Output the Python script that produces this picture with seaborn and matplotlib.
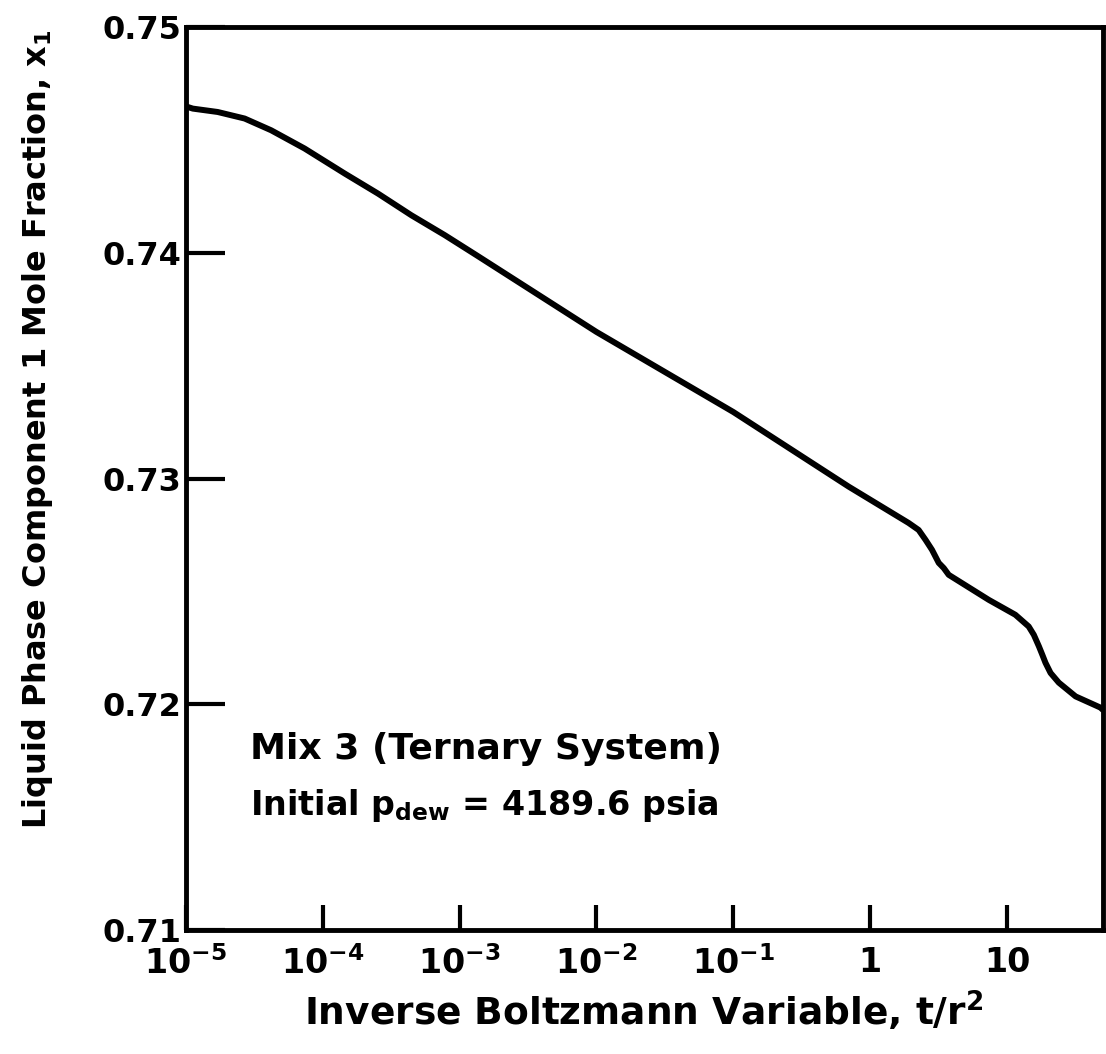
import matplotlib
matplotlib.use("Agg")
import matplotlib.pyplot as plt
import seaborn as sns
import numpy as np
import pandas as pd

# Data
t_over_r2 = [1.0e-5, 1.125e-5, 1.71e-5, 2.69e-5, 4.2e-5, 7.38e-5, 1.45e-4, 2.54e-4,
             4.45e-4, 7.8e-4, 1.33e-3, 1.0e-2, 1.0e-1, 0.697, 1.91, 2.26, 2.54, 2.83,
             3.17, 3.45, 3.75, 7.36, 11.5, 14.4, 15.7, 17.1, 18.1, 19.1, 20.8, 23.9,
             31.7, 48.3, 50.0]
x1_frac = [0.7465, 0.7464, 0.74625, 0.74596, 0.74544, 0.74463, 0.74352, 0.74263,
           0.74167, 0.74079, 0.73990, 0.7365, 0.73295, 0.72964, 0.72803, 0.72772, 0.72728, 0.72684,
           0.72626, 0.72603, 0.72573, 0.72462, 0.72396, 0.72344, 0.72307, 0.72256, 0.72219,
           0.72183, 0.72138, 0.72095, 0.72034, 0.71984, 0.71975]

x_ticks = [1e-5, 1e-4, 1e-3, 1e-2, 1e-1, 1, 10]
x_tick_labels = [r'$\mathbf{10^{-5}}$', r'$\mathbf{10^{-4}}$', r'$\mathbf{10^{-3}}$',
                 r'$\mathbf{10^{-2}}$', r'$\mathbf{10^{-1}}$', '1', '10']
y_ticks = [0.71, 0.72, 0.73, 0.74, 0.75]
y_tick_labels = ['0.71', '0.72', '0.73', '0.74', '0.75']

sns.set_style("ticks")
plt.rcParams['font.family'] = ['DejaVu Sans']
plt.rcParams['mathtext.fontset'] = 'dejavusans'
plt.rcParams['text.color'] = 'black'
plt.rcParams['axes.labelcolor'] = 'black'
plt.rcParams['xtick.color'] = 'black'
plt.rcParams['ytick.color'] = 'black'

df = pd.DataFrame({"t": t_over_r2, "x1": x1_frac})

fig = plt.figure(figsize=(11.06, 10.54), dpi=100)
ax = fig.add_axes([0.168, 0.118, 0.997 - 0.168, 0.974 - 0.118])

sns.lineplot(data=df, x="t", y="x1", ax=ax, color="black", linewidth=4.3, sort=True,
             solid_joinstyle="round", solid_capstyle="round")
ax.set_xscale("log")
ax.set_xlim(1e-5, 50)
ax.set_ylim(0.71, 0.75)

ax.set_xticks(x_ticks)
ax.set_xticklabels(x_tick_labels)
ax.xaxis.set_minor_locator(matplotlib.ticker.NullLocator())
ax.set_yticks(y_ticks)
ax.set_yticklabels(y_tick_labels)

for s in ax.spines.values():
    s.set_linewidth(3.5)
    s.set_color("black")

ax.tick_params(axis="x", direction="in", length=18, width=3, labelsize=24, pad=12, colors="black")
ax.tick_params(axis="y", direction="in", length=28, width=3, labelsize=23, pad=3, colors="black")
for lbl in ax.get_xticklabels() + ax.get_yticklabels():
    lbl.set_fontweight("bold")

ax.set_xlabel(r"Inverse Boltzmann Variable, t/r$^{\mathbf{2}}$", fontsize=27, fontweight="bold",
              labelpad=6, color="black")
ax.set_ylabel(r"Liquid Phase Component 1 Mole Fraction, x$_{\mathbf{1}}$", fontsize=23,
              fontweight="bold", color="black")
ax.yaxis.set_label_coords(-0.143, 0.555)

ax.text(0.070, 0.200, "Mix 3 (Ternary System)", transform=ax.transAxes, fontsize=26,
        fontweight="bold", va="center", ha="left", color="black")
ax.text(0.070, 0.138, r"Initial p$_{\mathbf{dew}}$ = 4189.6 psia", transform=ax.transAxes,
        fontsize=24, fontweight="bold", va="center", ha="left", color="black")

fig.savefig("out.png", dpi=100, facecolor="white")
